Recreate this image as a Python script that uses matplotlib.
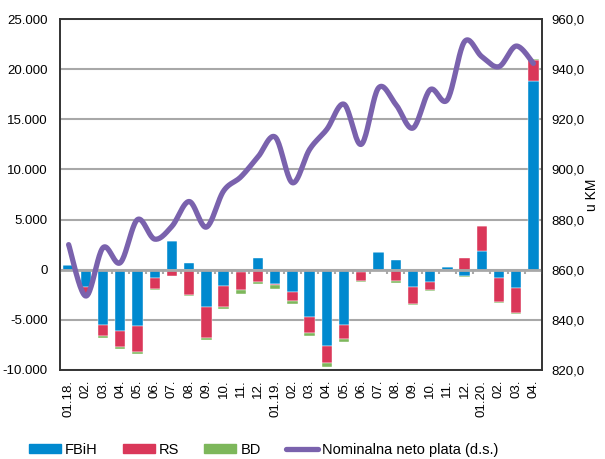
import numpy as np
import matplotlib
matplotlib.use("Agg")
import matplotlib.pyplot as plt
from matplotlib.lines import Line2D
from matplotlib.patches import Patch

plt.rcParams['font.family'] = ['Liberation Sans', 'DejaVu Sans']

# data
months = ['01.18.', '02.', '03.', '04.', '05.', '06.', '07.', '08.', '09.', '10.', '11.', '12.',
          '01.19.', '02.', '03.', '04.', '05.', '06.', '07.', '08.', '09.', '10.', '11.', '12.',
          '01.20.', '02.', '03.', '04.']
fbih = [500, -1750, -5500, -6100, -5650, -850, 2900, 650, -3750, -1650, -250, 1150,
        -1450, -2250, -4700, -7600, -5500, -200, 1750, 950, -1700, -1250, 250, -650,
        1900, -850, -1850, 18800]
rs = [0, -700, -1150, -1600, -2550, -1050, -650, -2500, -3100, -2100, -1750, -1250,
      -100, -900, -1650, -1750, -1400, -900, 0, -1150, -1750, -750, 0, 1150,
      2450, -2400, -2500, 2150]
bd = [0, -100, -150, -200, -170, -100, 0, -100, -130, -170, -400, -130,
      -400, -270, -270, -330, -270, -170, 0, -130, -100, -80, -150, -70,
      0, -70, -100, 100]
plata = [870.0, 849.5, 868.8, 862.8, 880.0, 872.2, 877.3, 887.2, 877.0, 891.4, 897.0, 905.0,
         912.9, 894.7, 908.0, 916.0, 926.0, 910.0, 932.5, 926.0, 916.5, 931.8, 927.8, 951.0,
         945.0, 941.0, 949.2, 942.3]

blue = '#0089CF'
red = '#DA3759'
green = '#7DB75B'
purple = '#7A62AD'
grid_c = '#A8A8A8'


def smooth(x, y, n=24):
    # excel-like smoothed line (bezier through the points)
    p = np.column_stack([x, y]).astype(float)
    out = []
    for i in range(len(p) - 1):
        p0 = p[i - 1] if i > 0 else p[i]
        p1 = p[i]
        p2 = p[i + 1]
        p3 = p[i + 2] if i + 2 < len(p) else p[i + 1]
        c1 = p1 + (p2 - p0) / 6
        c2 = p2 - (p3 - p1) / 6
        t = np.linspace(0, 1, n)[:, None]
        seg = (1 - t) ** 3 * p1 + 3 * (1 - t) ** 2 * t * c1 + 3 * (1 - t) * t ** 2 * c2 + t ** 3 * p2
        out.append(seg if i == 0 else seg[1:])
    out = np.vstack(out)
    return out[:, 0], out[:, 1]


fig = plt.figure(figsize=(6.05, 4.59), dpi=100)
ax = fig.add_axes([0.0992, 0.1939, 0.7967, 0.7647])

x = np.arange(len(months))
w = 0.6
pos = np.zeros(len(x))
neg = np.zeros(len(x))
for vals, col in [(fbih, blue), (rs, red), (bd, green)]:
    v = np.array(vals, dtype=float)
    bottom = np.where(v >= 0, pos, neg)
    ax.bar(x, v, w, bottom=bottom, color=col, edgecolor='white', linewidth=0.3, zorder=3)
    pos = pos + np.where(v > 0, v, 0)
    neg = neg + np.where(v < 0, v, 0)

ax.set_ylim(-10000, 25000)
ax.set_xlim(-0.5, len(x) - 0.5)
ax.set_yticks(np.arange(-10000, 25001, 5000))
ax.set_yticklabels([f'{v:,}'.replace(',', '.') for v in range(-10000, 25001, 5000)], fontsize=9.5)
ax.yaxis.grid(True, color=grid_c, linewidth=1.5, zorder=0)
ax.axhline(0, color=grid_c, linewidth=2, zorder=4)
ax.vlines(np.arange(len(x) + 1) - 0.5, -450, 0, color=grid_c, linewidth=1.5, zorder=4)
ax.tick_params(axis='y', length=0, pad=9)
ax.set_xticks(x)
ax.set_xticklabels(months, rotation=90, fontsize=9.5)
ax.tick_params(axis='x', length=0, pad=7)
for s in ax.spines.values():
    s.set_color('#333333')
    s.set_linewidth(1.2)

ax2 = ax.twinx()
sx, sy = smooth(x, plata)
ax2.plot(sx, sy, color=purple, linewidth=3.8, solid_capstyle='round', zorder=5)
ax2.set_ylim(820, 960)
ax2.set_yticks(np.arange(820, 961, 20))
ax2.set_yticklabels([f'{v:.1f}'.replace('.', ',') for v in range(820, 961, 20)], fontsize=9.5)
ax2.tick_params(axis='y', length=0, pad=7)
for s in ax2.spines.values():
    s.set_color('#333333')
    s.set_linewidth(1.2)
fig.text(0.978, 0.576, 'u KM', rotation=90, fontsize=10, ha='center', va='center')

handles = [Patch(color=blue), Patch(color=red), Patch(color=green),
           Line2D([0], [0], color=purple, linewidth=3.8, solid_capstyle='round')]
labels = ['FBiH', 'RS', 'BD', 'Nominalna neto plata (d.s.)']
fig.legend(handles, labels, loc='center', bbox_to_anchor=(0.436, 0.02), ncol=4, frameon=False,
           fontsize=10.5, handlelength=2.2, handleheight=0.55, handletextpad=0.3, columnspacing=1.7)

fig.savefig('out.png', dpi=100)
